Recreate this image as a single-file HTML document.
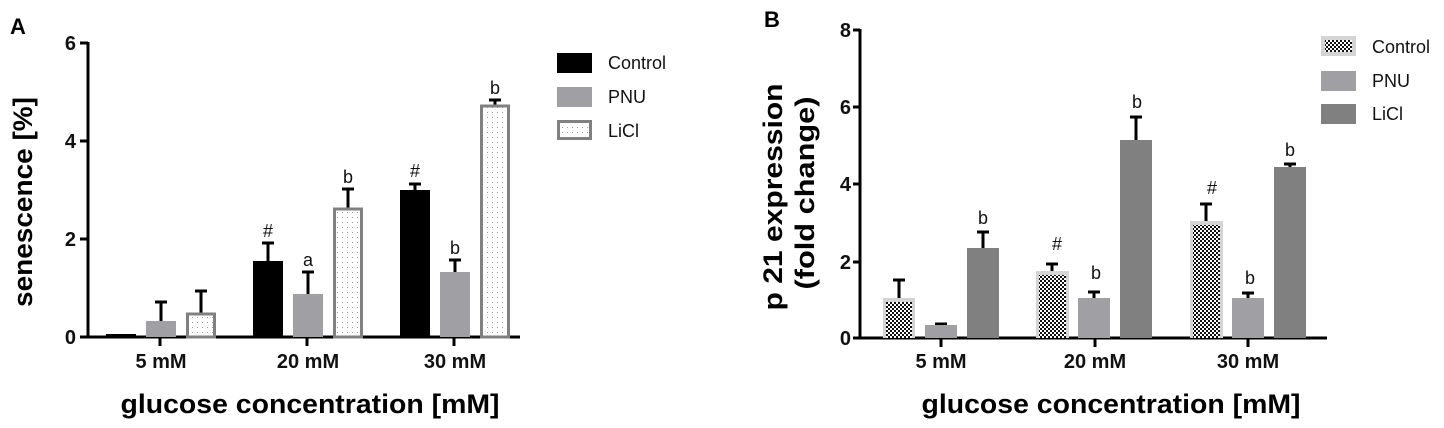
<!DOCTYPE html>
<html><head><meta charset="utf-8"><style>
html,body{margin:0;padding:0;background:#fff;}
svg{display:block;font-family:"Liberation Sans",Arial,sans-serif;}
.t{font-weight:bold;font-size:20px;fill:#111;}
.ann{font-size:18px;fill:#111;}
.leg{font-size:18px;fill:#111;}
</style></head><body>
<svg width="1444" height="428" viewBox="0 0 1444 428" xmlns="http://www.w3.org/2000/svg">
<defs>
<pattern id="dots" width="5" height="5" patternUnits="userSpaceOnUse">
<rect width="5" height="5" fill="#fff"/><rect x="2" y="2" width="1" height="1" fill="#999"/>
</pattern>
<pattern id="chk" width="4" height="4" patternUnits="userSpaceOnUse">
<rect width="4" height="4" fill="#fff"/><rect width="2" height="2" fill="#111"/><rect x="2" y="2" width="2" height="2" fill="#111"/>
</pattern>
</defs>
<!-- Panel A -->
<text x="10" y="34" style="font-weight:bold;font-size:22px">A</text>
<g class="t" text-anchor="end">
<text x="76" y="344">0</text><text x="76" y="246">2</text><text x="76" y="148">4</text><text x="76" y="50">6</text>
</g>
<g stroke="#000" stroke-width="3">
<line x1="88" y1="42" x2="88" y2="338"/>
<line x1="80" y1="43" x2="88" y2="43"/><line x1="80" y1="141" x2="88" y2="141"/><line x1="80" y1="239" x2="88" y2="239"/><line x1="80" y1="337" x2="88" y2="337"/>
<line x1="80" y1="337" x2="520" y2="337"/>
<line x1="160" y1="337" x2="160" y2="346"/><line x1="307" y1="337" x2="307" y2="346"/><line x1="454" y1="337" x2="454" y2="346"/>
</g>
<g stroke="#000" stroke-width="3">
<line x1="161" y1="302" x2="161" y2="322"/><line x1="155" y1="302" x2="167" y2="302"/>
<line x1="201" y1="291" x2="201" y2="314"/><line x1="195" y1="291" x2="207" y2="291"/>
<line x1="268" y1="243" x2="268" y2="262"/><line x1="262" y1="243" x2="274" y2="243"/>
<line x1="308" y1="272" x2="308" y2="294"/><line x1="302" y1="272" x2="314" y2="272"/>
<line x1="348" y1="189" x2="348" y2="210"/><line x1="342" y1="189" x2="354" y2="189"/>
<line x1="415" y1="184" x2="415" y2="190"/><line x1="409" y1="184" x2="421" y2="184"/>
<line x1="455" y1="260" x2="455" y2="272"/><line x1="449" y1="260" x2="461" y2="260"/>
<line x1="495" y1="100" x2="495" y2="106"/><line x1="489" y1="100" x2="501" y2="100"/>
</g>
<rect x="106" y="334" width="30" height="3" fill="#000"/>
<rect x="146" y="321" width="30" height="16" fill="#a0a0a4"/>
<rect x="187.5" y="314" width="27" height="23" fill="url(#dots)" stroke="#808080" stroke-width="3"/>
<rect x="253" y="261" width="30" height="76" fill="#000"/>
<rect x="293" y="294" width="30" height="43" fill="#a0a0a4"/>
<rect x="334.5" y="209" width="27" height="128" fill="url(#dots)" stroke="#808080" stroke-width="3"/>
<rect x="400" y="190" width="30" height="147" fill="#000"/>
<rect x="440" y="272" width="30" height="65" fill="#a0a0a4"/>
<rect x="481.5" y="106" width="27" height="231" fill="url(#dots)" stroke="#808080" stroke-width="3"/>
<g class="ann" text-anchor="middle">
<text x="268" y="237">#</text><text x="308" y="266">a</text><text x="348" y="183">b</text>
<text x="415" y="177">#</text><text x="455" y="254">b</text><text x="495" y="94">b</text>
</g>
<g class="t" text-anchor="middle">
<text x="161" y="368">5 mM</text><text x="308" y="368">20 mM</text><text x="455" y="368">30 mM</text>
</g>
<text x="310" y="413" text-anchor="middle" style="font-weight:bold;font-size:27px" textLength="379" lengthAdjust="spacingAndGlyphs">glucose concentration [mM]</text>
<text transform="translate(32,202) rotate(-90)" text-anchor="middle" style="font-weight:bold;font-size:27px" textLength="210" lengthAdjust="spacingAndGlyphs">senescence [%]</text>
<rect x="557" y="53" width="35" height="20" fill="#000"/>
<rect x="557" y="87" width="35" height="20" fill="#a0a0a4"/>
<rect x="558.5" y="121.5" width="32" height="17" fill="url(#dots)" stroke="#808080" stroke-width="3"/>
<g class="leg"><text x="608" y="69">Control</text><text x="608" y="103">PNU</text><text x="608" y="137">LiCl</text></g>

<!-- Panel B -->
<text x="764" y="27" style="font-weight:bold;font-size:22px">B</text>
<g class="t" text-anchor="end">
<text x="851" y="345">0</text><text x="851" y="269">2</text><text x="851" y="191">4</text><text x="851" y="114">6</text><text x="851" y="37">8</text>
</g>
<g stroke="#000" stroke-width="3">
<line x1="860" y1="29" x2="860" y2="338"/>
<line x1="853" y1="30" x2="860" y2="30"/><line x1="853" y1="107" x2="860" y2="107"/><line x1="853" y1="184" x2="860" y2="184"/><line x1="853" y1="262" x2="860" y2="262"/>
<line x1="853" y1="338" x2="1327" y2="338"/>
<line x1="941" y1="338" x2="941" y2="347"/><line x1="1095" y1="338" x2="1095" y2="347"/><line x1="1248" y1="338" x2="1248" y2="347"/>
</g>
<g stroke="#000" stroke-width="3">
<line x1="899" y1="280" x2="899" y2="300"/><line x1="893" y1="280" x2="905" y2="280"/>
<line x1="941" y1="324" x2="941" y2="326"/><line x1="935" y1="324" x2="947" y2="324"/>
<line x1="983" y1="232" x2="983" y2="250"/><line x1="977" y1="232" x2="989" y2="232"/>
<line x1="1052" y1="264" x2="1052" y2="272"/><line x1="1046" y1="264" x2="1058" y2="264"/>
<line x1="1094" y1="292" x2="1094" y2="298"/><line x1="1088" y1="292" x2="1100" y2="292"/>
<line x1="1136" y1="117" x2="1136" y2="141"/><line x1="1130" y1="117" x2="1142" y2="117"/>
<line x1="1206" y1="204" x2="1206" y2="222"/><line x1="1200" y1="204" x2="1212" y2="204"/>
<line x1="1248" y1="293" x2="1248" y2="298"/><line x1="1242" y1="293" x2="1254" y2="293"/>
<line x1="1290" y1="164" x2="1290" y2="168"/><line x1="1284" y1="164" x2="1296" y2="164"/>
</g>
<rect x="883" y="298" width="32" height="40" fill="#d4d4d4"/><rect x="886" y="302" width="26" height="36" fill="url(#chk)"/>
<rect x="925" y="325" width="32" height="13" fill="#a0a0a4"/>
<rect x="967" y="248" width="32" height="90" fill="#808080"/>
<rect x="1036" y="271" width="33" height="67" fill="#d4d4d4"/><rect x="1039" y="275" width="27" height="63" fill="url(#chk)"/>
<rect x="1078" y="298" width="32" height="40" fill="#a0a0a4"/>
<rect x="1120" y="140" width="32" height="198" fill="#808080"/>
<rect x="1190" y="221" width="33" height="117" fill="#d4d4d4"/><rect x="1193" y="225" width="27" height="113" fill="url(#chk)"/>
<rect x="1232" y="298" width="32" height="40" fill="#a0a0a4"/>
<rect x="1274" y="167" width="32" height="171" fill="#808080"/>
<g class="ann" text-anchor="middle">
<text x="983" y="224">b</text><text x="1057" y="250">#</text><text x="1096" y="279">b</text><text x="1137" y="108">b</text>
<text x="1212" y="194">#</text><text x="1250" y="284">b</text><text x="1290" y="156">b</text>
</g>
<g class="t" text-anchor="middle">
<text x="941" y="368">5 mM</text><text x="1095" y="368">20 mM</text><text x="1248" y="368">30 mM</text>
</g>
<text x="1111" y="413" text-anchor="middle" style="font-weight:bold;font-size:27px" textLength="379" lengthAdjust="spacingAndGlyphs">glucose concentration [mM]</text>
<text transform="translate(782,197) rotate(-90)" text-anchor="middle" style="font-weight:bold;font-size:27px" textLength="227" lengthAdjust="spacingAndGlyphs">p 21 expression</text>
<text transform="translate(814,193) rotate(-90)" text-anchor="middle" style="font-weight:bold;font-size:27px" textLength="193" lengthAdjust="spacingAndGlyphs">(fold change)</text>
<rect x="1321" y="36" width="35" height="20" fill="#d4d4d4"/><rect x="1325" y="40" width="27" height="12" fill="url(#chk)"/>
<rect x="1321" y="71" width="35" height="20" fill="#a0a0a4"/>
<rect x="1321" y="104" width="35" height="20" fill="#808080"/>
<g class="leg"><text x="1372" y="53">Control</text><text x="1372" y="87">PNU</text><text x="1372" y="120">LiCl</text></g>
</svg>
</body></html>
